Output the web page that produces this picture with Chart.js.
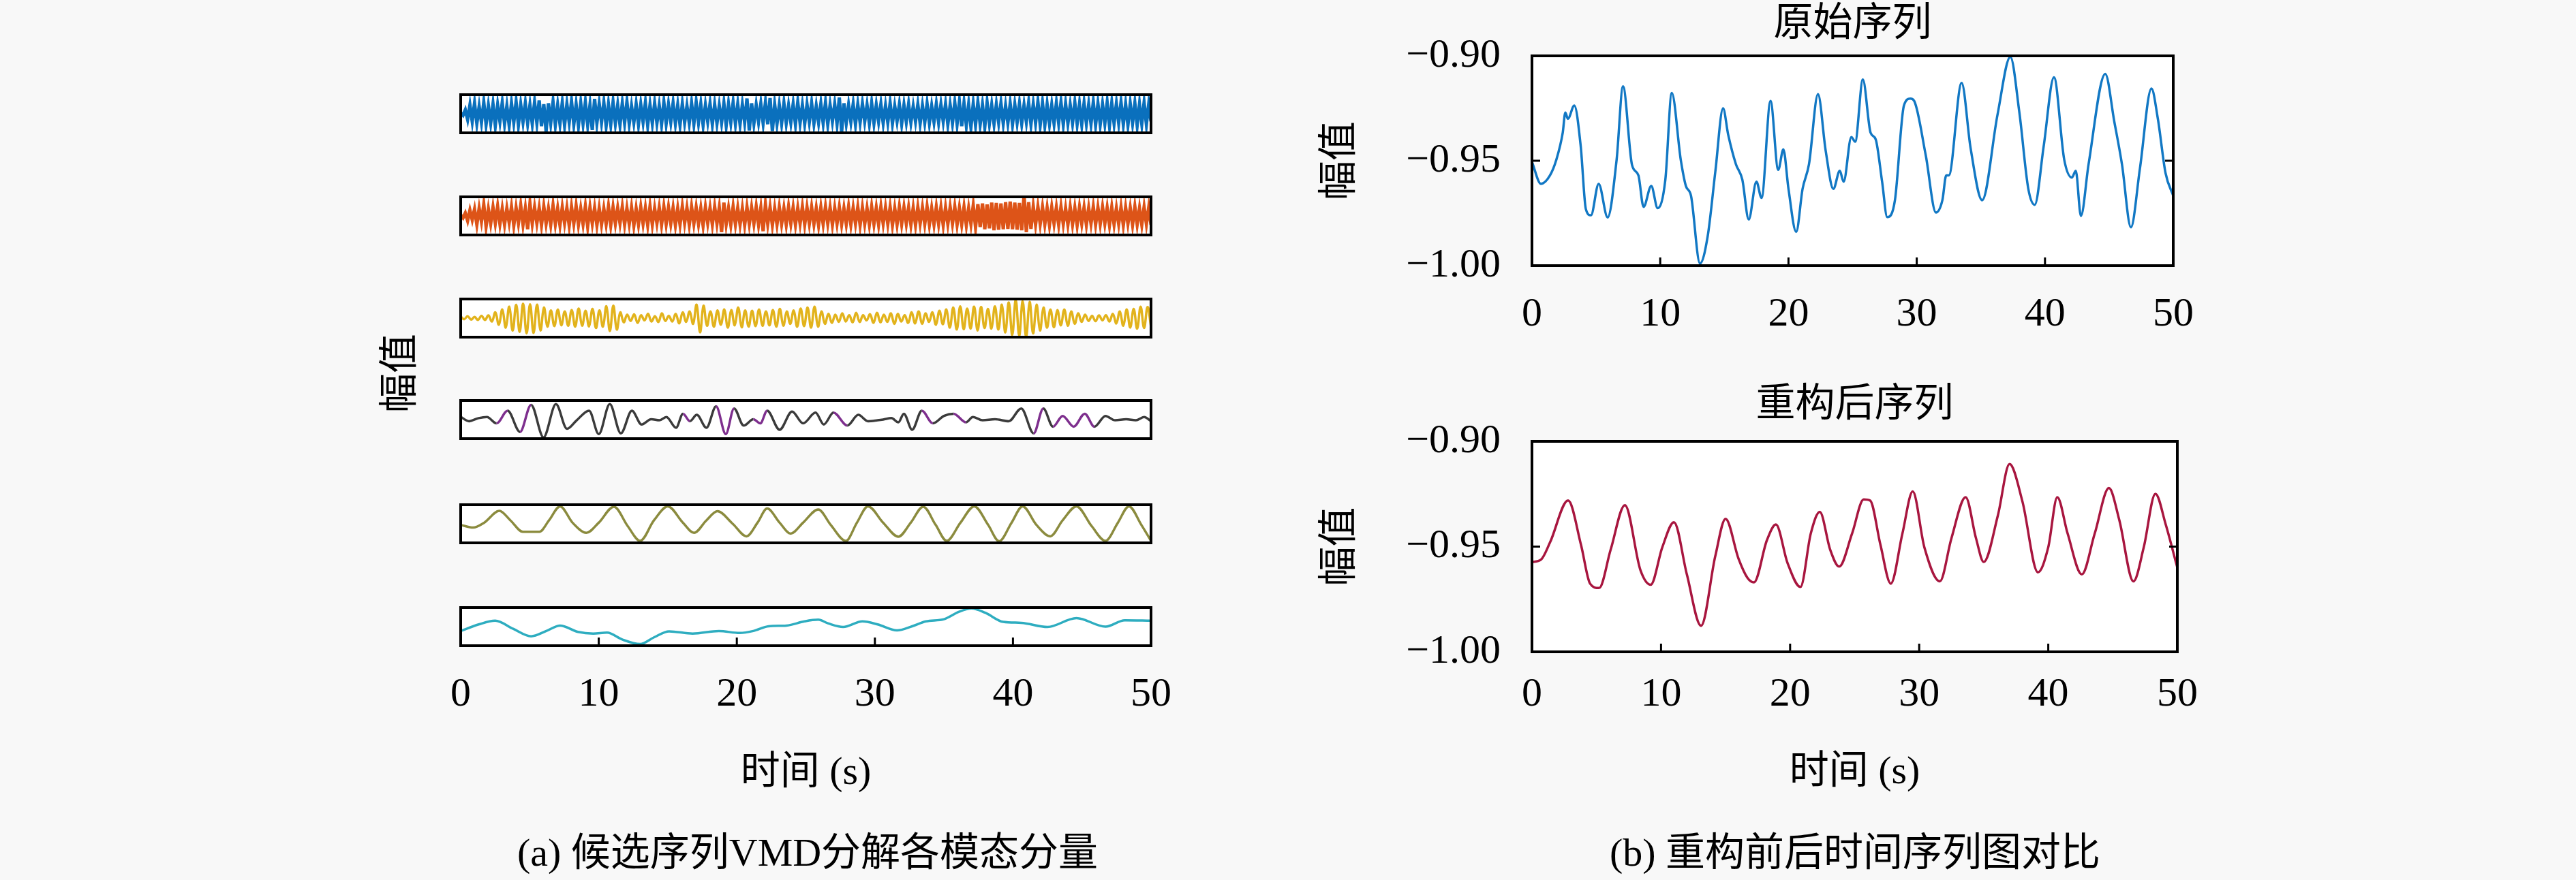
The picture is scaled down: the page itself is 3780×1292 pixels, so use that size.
<!DOCTYPE html>
<html><head><meta charset="utf-8">
<script src="https://cdn.jsdelivr.net/npm/chart.js@4.4.1/dist/chart.umd.min.js"></script>
<style>
html,body{margin:0;padding:0;background:#f8f8f8;}
body{width:3780px;height:1292px;position:relative;overflow:hidden;font-family:'Liberation Serif','Noto Sans CJK SC',serif;}
canvas{position:absolute;}
.txt{position:absolute;font-size:58px;color:#000;white-space:nowrap;line-height:1;}
</style></head><body>
<div class="txt" id="ylab" style="left:586px;top:548px;transform:translate(-50%,-50%) rotate(-90deg);">幅值</div>
<div class="txt" style="left:1185px;top:1252px;transform:translate(-50%,-50%);">(a) 候选序列VMD分解各模态分量</div>
<div class="txt" style="left:2722px;top:1252px;transform:translate(-50%,-50%);">(b) 重构前后时间序列图对比</div>
<script>
// ---------------- DATA ----------------
const xTickValues = [0, 10, 20, 30, 40, 50];
const rightYTicks = [-1.00, -0.95, -0.90];
const xTitle = '时间 (s)';
const yTitle = '幅值';
const topTitle = '原始序列';
const bottomTitle = '重构后序列';

// Mode 1 (high-frequency, evenly sampled over 0–50 s), relative amplitude %
const mode1 = [
 5,-8,20,-30,45,-40,55,-50,38,-45,60,-55,42,-48,50,-62,45,-40,58,-52,40,-60,55,-45,62,-58,48,-42,55,-50,
 45,-52,60,-48,70,-65,50,-92,55,-48,62,-58,45,-52,58,-60,50,-45,65,-55,48,-62,55,-50,60,-58,45,-85,78,-48,
 52,-45,58,-62,48,-55,60,-50,45,-58,55,-48,62,-52,40,-45,50,-55,48,-42,58,-60,45,-50,55,-48,42,-55,60,-50,
 48,-42,55,-50,45,-58,52,-46,40,-48,55,-52,60,-45,50,-58,45,-40,52,-55,48,-50,42,-46,55,-60,50,-45,58,-52,
 50,-55,48,-45,80,-88,55,-50,45,-42,52,-48,60,-55,82,-90,48,-52,45,-50,55,-48,42,-45,50,-55,60,-48,45,-52,
 48,-42,55,-50,40,-45,52,-48,58,-55,45,-40,50,-52,85,-95,55,-48,45,-42,50,-55,48,-45,52,-40,45,-50,55,-48,
 45,-40,50,-48,42,-45,55,-50,40,-38,48,-52,45,-42,50,-45,38,-40,48,-50,42,-45,52,-48,40,-42,50,-45,48,-40,
 50,-55,45,-48,58,-52,62,-65,55,-60,48,-70,52,-58,60,-55,45,-68,58,-50,45,-52,48,-45,55,-50,42,-48,52,-55,
 48,-45,52,-50,45,-42,58,-55,50,-48,62,-58,55,-60,48,-52,45,-50,55,-48,60,-55,52,-50,45,-48,58,-52,50,-55,
 55,-50,48,-52,60,-58,52,-55,48,-50,58,-62,55,-50,52,-48,60,-55,50,-58,52,-48,55,-60,50,-52,58,-55,50,-40
];
// Mode 2
const mode2 = [
 5,-10,15,-25,30,-20,35,-45,40,-30,60,-55,35,-40,45,-38,50,-42,38,-45,40,-35,48,-50,42,-38,55,-45,40,-70,
 65,-40,45,-38,42,-48,50,-40,38,-45,55,-42,40,-48,45,-38,42,-50,48,-40,52,-45,38,-42,50,-55,45,-40,42,-48,
 40,-45,38,-42,50,-48,45,-40,42,-38,48,-45,40,-42,45,-50,38,-44,46,-40,42,-48,50,-45,40,-38,44,-46,48,-42,
 45,-40,42,-48,40,-45,50,-38,42,-46,48,-40,44,-42,40,-50,46,-38,42,-45,48,-40,44,-85,70,-42,40,-46,48,-44,
 42,-45,40,-48,46,-42,44,-40,48,-45,42,-80,60,-42,45,-48,40,-44,46,-42,40,-45,48,-40,44,-46,42,-40,48,-45,
 44,-40,46,-42,40,-48,45,-42,48,-40,44,-46,42,-40,46,-44,40,-42,48,-45,42,-40,46,-48,44,-42,40,-45,48,-42,
 42,-45,48,-40,44,-42,46,-48,40,-44,48,-42,45,-40,44,-46,42,-48,46,-40,44,-42,48,-45,40,-44,46,-42,45,-48,
 44,-42,46,-40,48,-45,42,-44,46,-48,40,-42,55,-60,62,-58,65,-70,60,-65,70,-75,68,-72,65,-70,72,-68,75,-70,
 70,-72,68,-75,110,-85,72,-68,50,-45,48,-42,46,-44,42,-48,45,-40,44,-46,48,-42,40,-45,46,-44,42,-48,45,-40,
 44,-46,42,-40,48,-45,44,-42,46,-40,42,-48,45,-44,40,-42,46,-48,44,-40,42,-46,48,-44,40,-45,46,-42,44,-46
];
// Mode 3
const mode3 = [
 8,-6,10,-8,6,-10,12,-10,14,-18,30,-35,45,-50,60,-65,70,-72,75,-80,
 72,-78,70,-65,55,-45,40,-42,45,-38,35,-40,42,-45,50,-40,38,-44,48,-52,
 40,-45,62,-68,65,-60,30,-22,18,-15,20,-25,15,-12,22,-18,10,-20,25,-15,
 12,-18,22,-28,30,-20,35,-30,70,-75,65,-40,35,-45,40,-35,45,-50,42,-38,
 55,-48,40,-45,38,-42,45,-40,35,-38,42,-45,48,-40,35,-30,40,-45,50,-42,
 55,-50,60,-45,35,-30,22,-25,18,-20,25,-18,15,-22,28,-20,15,-12,20,-25,
 28,-22,18,-20,25,-30,22,-18,15,-25,30,-28,35,-30,25,-20,30,-35,38,-32,
 45,-50,55,-60,62,-58,50,-55,60,-65,58,-52,48,-55,62,-60,70,-75,82,-88,
 95,-92,88,-100,85,-80,70,-65,55,-50,45,-48,42,-38,45,-40,35,-30,25,-20,
 18,-15,12,-16,14,-12,15,-18,22,-28,35,-40,45,-50,48,-55,60,-52,58,-45
];
// Mode 4: [time s, value]
const mode4 = [[0,0.15],[0.6,-0.09],[1.3,0.08],[1.9,0.14],[2.6,-0.21],[3.4,0.49],[4.3,-0.68],[5.1,0.81],[6.0,-0.98],[6.9,0.85],[7.7,-0.51],[8.4,-0.04],[9.3,0.49],[10.0,-0.8],[10.8,0.85],[11.6,-0.76],[12.4,0.49],[13.1,-0.27],[13.8,0.02],[14.4,-0.04],[14.9,0.14],[15.6,-0.45],[16.1,0.32],[16.6,-0.09],[17.1,0.26],[17.8,-0.45],[18.5,0.73],[19.2,-0.8],[19.8,0.61],[20.5,-0.33],[21.2,0.02],[21.7,-0.21],[22.2,0.49],[23.1,-0.56],[24.0,0.44],[24.8,-0.21],[25.7,0.38],[26.3,-0.27],[27.0,0.38],[28.0,-0.33],[28.8,0.26],[29.5,-0.09],[30.2,-0.04],[30.6,0],[31.2,0.08],[31.7,-0.15],[32.1,0.32],[32.7,-0.56],[33.4,0.49],[34.2,-0.21],[35.0,0.2],[35.7,0.32],[36.6,-0.15],[37.1,0.14],[37.8,-0.04],[38.7,0.02],[39.7,-0.09],[40.6,0.61],[41.5,-0.76],[42.2,0.61],[42.9,-0.39],[43.6,0.2],[44.4,-0.39],[45.2,0.32],[45.9,-0.39],[46.7,0.2],[47.4,-0.04],[48.2,0.02],[48.9,-0.04],[49.5,0.14],[50,-0.09]];
const mode4Accent = [[2.4,2.8],[3.8,5.1],[15.9,16.6],[18.1,19.5],[21.0,22.0],[26.6,27.4],[33.0,34.2],[35.7,36.5],[41.0,42.0],[42.9,45.5]];
// Mode 5
const mode5 = [[0,-0.06],[0.9,-0.21],[1.7,0.06],[2.8,0.71],[3.6,0.19],[4.5,-0.44],[5.7,-0.44],[6.4,0.19],[7.2,0.96],[8.1,0.06],[9.1,-0.5],[10.0,0.06],[11.1,0.94],[12.1,-0.13],[13.0,-0.94],[14.0,0.19],[15.0,0.96],[16.1,0.06],[16.9,-0.5],[17.8,0.19],[18.6,0.69],[19.7,0],[20.7,-0.69],[21.5,0.06],[22.2,0.84],[23.1,0.06],[23.9,-0.54],[24.8,0.06],[25.9,0.79],[26.8,-0.06],[27.9,-0.94],[28.7,0.06],[29.5,0.96],[30.6,0.06],[31.7,-0.71],[32.6,0.06],[33.5,0.94],[34.4,-0.06],[35.2,-0.94],[36.2,0.06],[37.2,0.96],[38.2,-0.06],[39.0,-0.96],[39.9,0.06],[40.7,0.96],[41.7,-0.06],[42.7,-0.69],[43.6,0.19],[44.6,0.96],[45.7,-0.13],[46.7,-0.94],[47.6,0.06],[48.4,0.96],[49.3,-0.06],[50,-0.94]];
// Mode 6
const mode6 = [[0,-0.24],[1.3,0.12],[2.5,0.33],[3.8,-0.12],[5.1,-0.53],[6.2,-0.24],[7.2,0.06],[8.5,-0.29],[9.6,-0.38],[10.6,-0.33],[11.7,-0.71],[13.0,-0.96],[14.0,-0.59],[15.1,-0.26],[16.8,-0.38],[18.7,-0.24],[20.2,-0.35],[21.2,-0.24],[22.3,0.02],[23.6,0.06],[24.9,0.29],[25.9,0.38],[26.6,0.18],[27.7,-0.02],[29.1,0.29],[30.2,0.12],[31.6,-0.21],[32.7,0.02],[33.7,0.29],[35.0,0.41],[36.1,0.82],[37.0,1.0],[38.0,0.76],[39.3,0.26],[40.6,0.21],[42.5,-0.02],[44.6,0.47],[46.7,0],[48.1,0.35],[50,0.33]];
// Original series
const original = [[0,-0.9505],[0.7,-0.961],[1.4,-0.957],[1.9,-0.9495],[2.4,-0.9366],[2.6,-0.927],[2.8,-0.930],[3.3,-0.9237],[3.8,-0.943],[4.2,-0.973],[4.6,-0.976],[5.2,-0.961],[5.9,-0.977],[6.6,-0.9495],[7.1,-0.9145],[7.8,-0.952],[8.3,-0.957],[8.7,-0.972],[9.3,-0.962],[9.8,-0.9726],[10.4,-0.959],[10.9,-0.9177],[11.6,-0.9495],[12.0,-0.962],[12.4,-0.9667],[13.1,-0.999],[13.7,-0.986],[14.3,-0.955],[14.9,-0.925],[15.3,-0.9376],[15.9,-0.9516],[16.4,-0.959],[16.9,-0.978],[17.5,-0.960],[17.9,-0.9677],[18.6,-0.9215],[19.2,-0.9543],[19.6,-0.9446],[20.0,-0.9634],[20.6,-0.9839],[21.1,-0.9634],[21.6,-0.9516],[22.3,-0.9183],[22.9,-0.9452],[23.5,-0.9634],[24.0,-0.9548],[24.3,-0.960],[24.9,-0.9387],[25.2,-0.9409],[25.8,-0.9113],[26.4,-0.9366],[26.8,-0.9398],[27.3,-0.960],[27.7,-0.9769],[28.3,-0.9688],[29.0,-0.9237],[29.5,-0.9204],[29.8,-0.9215],[30.7,-0.9473],[31.5,-0.9747],[32.0,-0.9688],[32.3,-0.957],[32.5,-0.957],[33.5,-0.9129],[34.2,-0.944],[35.1,-0.9688],[36.3,-0.928],[37.3,-0.9005],[38.0,-0.9269],[38.7,-0.9634],[39.2,-0.971],[39.9,-0.943],[40.7,-0.9102],[41.5,-0.9495],[42.1,-0.958],[42.4,-0.9548],[42.8,-0.9763],[43.4,-0.9516],[44.7,-0.9086],[45.4,-0.9312],[46.0,-0.9516],[46.7,-0.9817],[47.4,-0.9538],[48.3,-0.9156],[48.8,-0.930],[49.4,-0.9559],[50,-0.9667]];
// Reconstructed series
const reconstructed = [[0,-0.9573],[0.7,-0.9562],[1.4,-0.948],[2.8,-0.9281],[3.8,-0.9492],[4.5,-0.9676],[5.2,-0.9697],[6.1,-0.9514],[7.2,-0.9303],[8.4,-0.9611],[9.2,-0.9681],[10.1,-0.9503],[11.0,-0.9384],[12.0,-0.9632],[13.1,-0.9876],[14.2,-0.9546],[15.0,-0.9368],[16.0,-0.9557],[16.7,-0.9649],[17.2,-0.967],[18.2,-0.947],[18.9,-0.9395],[19.8,-0.9578],[20.8,-0.9692],[21.6,-0.9438],[22.3,-0.9335],[23.1,-0.9514],[23.8,-0.9595],[24.8,-0.9438],[25.7,-0.9276],[26.2,-0.9281],[27.0,-0.9492],[27.8,-0.9676],[28.7,-0.9438],[29.5,-0.9238],[30.4,-0.9503],[31.6,-0.9665],[32.5,-0.946],[33.6,-0.9265],[34.4,-0.946],[35.0,-0.9573],[36.1,-0.9351],[37.0,-0.9108],[38.0,-0.9286],[39.2,-0.9622],[40.0,-0.9503],[40.7,-0.9265],[41.5,-0.9438],[42.6,-0.9632],[43.6,-0.9438],[44.7,-0.9222],[45.5,-0.9373],[46.6,-0.9665],[47.4,-0.9503],[48.3,-0.9249],[49.1,-0.9395],[50,-0.96]];

// ---------------- RENDERING ----------------
const FONT = "'Liberation Serif','Noto Sans CJK SC',serif";
Chart.defaults.font.family = FONT;
Chart.defaults.color = '#000';

const framePlugin = {
  id: 'frame',
  beforeDraw(chart) {
    const a = chart.chartArea, ctx = chart.ctx;
    ctx.save(); ctx.fillStyle = '#ffffff';
    ctx.fillRect(a.left, a.top, a.right - a.left, a.bottom - a.top); ctx.restore();
  },
  afterDraw(chart, args, o) {
    const a = chart.chartArea, ctx = chart.ctx;
    ctx.save(); ctx.strokeStyle = '#000'; ctx.lineWidth = 4;
    ctx.strokeRect(a.left, a.top, a.right - a.left, a.bottom - a.top);
    ctx.lineWidth = 3;
    if (o && o.xTicks) {
      const s = chart.scales.x;
      o.xTicks.forEach(v => { const p = s.getPixelForValue(v);
        if (p > a.left + 4 && p < a.right - 4) { ctx.beginPath(); ctx.moveTo(p, a.bottom); ctx.lineTo(p, a.bottom - 12); ctx.stroke(); } });
    }
    if (o && o.yTicks) {
      const s = chart.scales.y;
      o.yTicks.forEach(v => { const p = s.getPixelForValue(v);
        if (p > a.top + 4 && p < a.bottom - 4) { ctx.beginPath(); ctx.moveTo(a.left, p); ctx.lineTo(a.left + 12, p); ctx.moveTo(a.right, p); ctx.lineTo(a.right - 12, p); ctx.stroke(); } });
    }
    ctx.restore();
  }
};
Chart.register(framePlugin);

function place(id, plot, m) {
  const c = document.createElement('canvas');
  c.id = id; c.width = plot.w + m.l + m.r; c.height = plot.h + m.t + m.b;
  c.style.left = (plot.l - m.l) + 'px'; c.style.top = (plot.t - m.t) + 'px';
  document.body.appendChild(c); return c;
}
const toPts = arr => arr.map(p => ({x: p[0], y: p[1]}));
const gridPts = arr => arr.map((v, i) => ({x: i * 50 / (arr.length - 1), y: v}));
const inRanges = (t, r) => r.some(q => t >= q[0] && t < q[1]);
const fmt = v => (v < 0 ? '\u2212' : '') + Math.abs(v).toFixed(2);
const setTicks = arr => s => { s.ticks = arr.map(v => ({value: v})); };
const tickFont = {family: FONT, size: 60};
const titleFont = {family: FONT, size: 58};

const boxTops = [139, 289, 439, 588, 741, 892];
const boxH = 56;
const modeSets = [
  {data: gridPts(mode1), color: '#0a70bd', w: 5, tension: 0, min: -100, max: 100},
  {data: gridPts(mode2), color: '#dd5418', w: 5, tension: 0, min: -100, max: 100},
  {data: gridPts(mode3), color: '#e2b31c', w: 3.5, tension: 0.4, min: -100, max: 100},
  {data: toPts(mode4), color: '#3b3b3b', w: 3.5, mono: true, min: -1.05, max: 1.05, accent: mode4Accent, accentColor: '#7e2f8e'},
  {data: toPts(mode5), color: '#8b8b3e', w: 3.5, mono: true, min: -1.05, max: 1.05},
  {data: toPts(mode6), color: '#2eadc0', w: 3.5, mono: true, min: -1.05, max: 1.05}
];

modeSets.forEach((ms, i) => {
  const last = i === 5;
  const plot = {l: 676, t: boxTops[i], w: 1013, h: boxH};
  const m = last ? {l: 80, t: 6, r: 80, b: 233} : {l: 6, t: 6, r: 6, b: 6};
  const c = place('mode' + i, plot, m);
  const ds = {data: ms.data, borderColor: ms.color, borderWidth: ms.w, pointRadius: 0, fill: false,
    tension: ms.mono ? 0 : ms.tension};
  if (ms.mono) ds.cubicInterpolationMode = 'monotone';
  if (ms.accent) ds.segment = {borderColor: ctx => inRanges(ctx.p0.parsed.x, ms.accent) ? ms.accentColor : ms.color};
  const xScale = {type: 'linear', min: 0, max: 50, display: last,
    grid: {display: false, drawTicks: false}, border: {display: false}};
  if (last) {
    Object.assign(xScale, {
      afterBuildTicks: setTicks(xTickValues), afterFit: s => { s.height = 223; },
      ticks: {font: tickFont, color: '#000', padding: 36, maxRotation: 0, autoSkip: false},
      title: {display: true, text: xTitle, font: titleFont, color: '#000', padding: 0}
    });
  }
  new Chart(c, {
    type: 'line',
    data: {datasets: [ds]},
    options: {
      responsive: false, animation: false, devicePixelRatio: 1,
      layout: {padding: last ? {left: 80, right: 80, top: 6, bottom: 10} : 6},
      plugins: {legend: {display: false}, tooltip: {enabled: false}, frame: last ? {xTicks: xTickValues} : {}},
      scales: {
        x: xScale,
        y: {display: false, min: ms.min, max: ms.max}
      }
    }
  });
});

function rightChart(id, plot, mTop, pts, color, title, xH, tickPad, showXTitle) {
  const m = {l: 325, t: mTop, r: 60, b: xH + 10};
  const c = place(id, plot, m);
  new Chart(c, {
    type: 'line',
    data: {datasets: [{data: toPts(pts), borderColor: color, borderWidth: 3.5, pointRadius: 0, fill: false,
      cubicInterpolationMode: 'monotone', xAxisID: 'x', yAxisID: 'y'}]},
    options: {
      responsive: false, animation: false, devicePixelRatio: 1,
      layout: {padding: {left: 10, right: 60, top: 0, bottom: 10}},
      plugins: {legend: {display: false}, tooltip: {enabled: false}, frame: {xTicks: xTickValues, yTicks: rightYTicks}},
      scales: {
        x: {type: 'linear', position: 'bottom', min: 0, max: 50,
          afterBuildTicks: setTicks(xTickValues), afterFit: s => { s.height = xH; },
          grid: {display: false, drawTicks: false}, border: {display: false},
          ticks: {font: tickFont, color: '#000', padding: tickPad, maxRotation: 0, autoSkip: false},
          title: {display: showXTitle, text: xTitle, font: titleFont, color: '#000', padding: 0}},
        x2: {type: 'linear', position: 'top', min: 0, max: 50,
          afterFit: s => { s.height = mTop; },
          grid: {display: false, drawTicks: false}, border: {display: false},
          ticks: {display: false},
          title: {display: true, text: title, font: titleFont, color: '#000', padding: 0}},
        y: {type: 'linear', min: -1.0, max: -0.9,
          afterBuildTicks: setTicks(rightYTicks), afterFit: s => { s.width = 315; },
          grid: {display: false, drawTicks: false}, border: {display: false},
          ticks: {font: tickFont, color: '#000', padding: 46, callback: v => fmt(v)},
          title: {display: true, text: yTitle, font: titleFont, color: '#000', padding: 0}}
      }
    }
  });
}
rightChart('orig', {l: 2248, t: 80, w: 947, h: 310}, 80, original, '#1278c4', topTitle, 110, 36, false);
rightChart('recon', {l: 2248, t: 648, w: 947, h: 309}, 87, reconstructed, '#a8163f', bottomTitle, 213, 27, true);
</script>
</body></html>
